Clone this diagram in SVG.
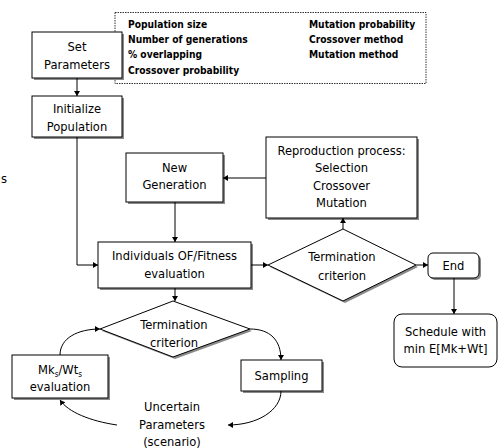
<svg xmlns="http://www.w3.org/2000/svg" width="500" height="448" viewBox="0 0 500 448">
<defs>
<marker id="arr" markerWidth="6" markerHeight="6" refX="5" refY="3" orient="auto" markerUnits="userSpaceOnUse">
<path d="M0,0 L5,3 L0,6 z" fill="#000"/>
</marker>
</defs>
<style>
.box{fill:#fff;stroke:#000;stroke-width:1}
.sh{fill:#8a8a8a;stroke:none}
.t{font-family:"DejaVu Sans Condensed","DejaVu Sans","Liberation Sans",sans-serif;font-size:12.8px;fill:#000;text-anchor:middle}
.b{font-family:"DejaVu Sans Condensed","DejaVu Sans","Liberation Sans",sans-serif;font-size:10.2px;font-weight:bold;fill:#000}
.c{fill:none;stroke:#000;stroke-width:1}
</style>
<rect width="500" height="448" fill="#fff"/>

<g id="params-note">
<rect x="115" y="12.5" width="311" height="71" fill="#fff" stroke="#000" stroke-width="0.8" stroke-dasharray="1.5,1"/>
<text class="b" x="128" y="28">Population size</text>
<text class="b" x="128" y="43">Number of generations</text>
<text class="b" x="128" y="58">% overlapping</text>
<text class="b" x="128" y="74">Crossover probability</text>
<text class="b" x="309" y="28">Mutation probability</text>
<text class="b" x="309" y="43">Crossover method</text>
<text class="b" x="309" y="58">Mutation method</text>
</g>

<g id="set-parameters">
<rect class="sh" x="34" y="34" width="90" height="46"/>
<rect class="box" x="32" y="32" width="90" height="46"/>
<text class="t" x="77" y="51">Set</text>
<text class="t" x="77" y="69">Parameters</text>
</g>

<g id="initialize-population">
<rect class="sh" x="34" y="98" width="90" height="41"/>
<rect class="box" x="32" y="96" width="90" height="41"/>
<text class="t" x="77" y="113">Initialize</text>
<text class="t" x="77" y="131">Population</text>
</g>

<g id="new-generation">
<rect class="sh" x="128" y="155" width="97" height="49"/>
<rect class="box" x="126" y="153" width="97" height="49"/>
<text class="t" x="174.5" y="172">New</text>
<text class="t" x="174.5" y="189">Generation</text>
</g>

<g id="reproduction">
<rect class="sh" x="268" y="139" width="151" height="81"/>
<rect class="box" x="266" y="137" width="151" height="81"/>
<text class="t" x="341.5" y="155">Reproduction process:</text>
<text class="t" x="341.5" y="172">Selection</text>
<text class="t" x="341.5" y="190">Crossover</text>
<text class="t" x="341.5" y="207">Mutation</text>
</g>

<g id="fitness-evaluation">
<rect class="sh" x="100" y="244" width="153" height="46"/>
<rect class="box" x="98" y="242" width="153" height="46"/>
<text class="t" x="174.5" y="260">Individuals OF/Fitness</text>
<text class="t" x="174.5" y="278">evaluation</text>
</g>

<g id="termination-top">
<polygon class="sh" points="270,267 345,231 418,267 345,303"/>
<polygon class="box" points="268,265 343,229 416,265 343,301"/>
<text class="t" x="342" y="261">Termination</text>
<text class="t" x="342" y="280">criterion</text>
</g>

<g id="end">
<rect class="sh" x="430" y="255" width="51" height="25" rx="5"/>
<rect class="box" x="428" y="253" width="51" height="25" rx="5"/>
<text class="t" x="453.5" y="270">End</text>
</g>

<g id="schedule">
<rect class="box" x="394" y="314" width="103" height="53" rx="8"/>
<text class="t" x="445.5" y="336">Schedule with</text>
<text class="t" x="445.5" y="353">min E[Mk+Wt]</text>
</g>

<g id="termination-bottom">
<polygon class="sh" points="102,331 175,303 252,331 175,359"/>
<polygon class="box" points="100,329 173,301 250,329 173,357"/>
<text class="t" x="174" y="329">Termination</text>
<text class="t" x="174" y="347">criterion</text>
</g>

<g id="mk-wt-evaluation">
<rect class="sh" x="14" y="357" width="96" height="43"/>
<rect class="box" x="12" y="355" width="96" height="43"/>
<text class="t" x="60" y="374">Mk<tspan font-size="8" dy="3">s</tspan><tspan dy="-3">/Wt</tspan><tspan font-size="8" dy="3">s</tspan></text>
<text class="t" x="60" y="391">evaluation</text>
</g>

<g id="sampling">
<rect class="sh" x="243" y="362" width="81" height="31"/>
<rect class="box" x="241" y="360" width="81" height="31"/>
<text class="t" x="281.5" y="380">Sampling</text>
</g>

<g id="uncertain-parameters">
<text class="t" x="172" y="411">Uncertain</text>
<text class="t" x="172" y="429">Parameters</text>
<text class="t" x="172" y="446">(scenario)</text>
</g>

<text class="t" x="4" y="183">s</text>

<g id="connectors">
<line class="c" x1="77" y1="78" x2="77" y2="96" marker-end="url(#arr)"/>
<polyline class="c" points="77,137 77,265 98,265" marker-end="url(#arr)"/>
<line class="c" x1="175" y1="202" x2="175" y2="242" marker-end="url(#arr)"/>
<line class="c" x1="251" y1="265" x2="268" y2="265" marker-end="url(#arr)"/>
<line class="c" x1="343" y1="229" x2="343" y2="218" marker-end="url(#arr)"/>
<line class="c" x1="266" y1="178" x2="223" y2="178" marker-end="url(#arr)"/>
<line class="c" x1="416" y1="265" x2="428" y2="265" marker-end="url(#arr)"/>
<line class="c" x1="454" y1="278" x2="454" y2="314" marker-end="url(#arr)"/>
<line class="c" x1="175" y1="288" x2="175" y2="301" marker-end="url(#arr)"/>
<path class="c" d="M250,329 C270,329 281,340 281,360" marker-end="url(#arr)"/>
<path class="c" d="M281,391 C281,410 258,425 228,425" marker-end="url(#arr)"/>
<path class="c" d="M117,425 C90,421 68,412 60,400" marker-end="url(#arr)"/>
<path class="c" d="M60,355 C60,338 78,329 100,329" marker-end="url(#arr)"/>
</g>
</svg>
